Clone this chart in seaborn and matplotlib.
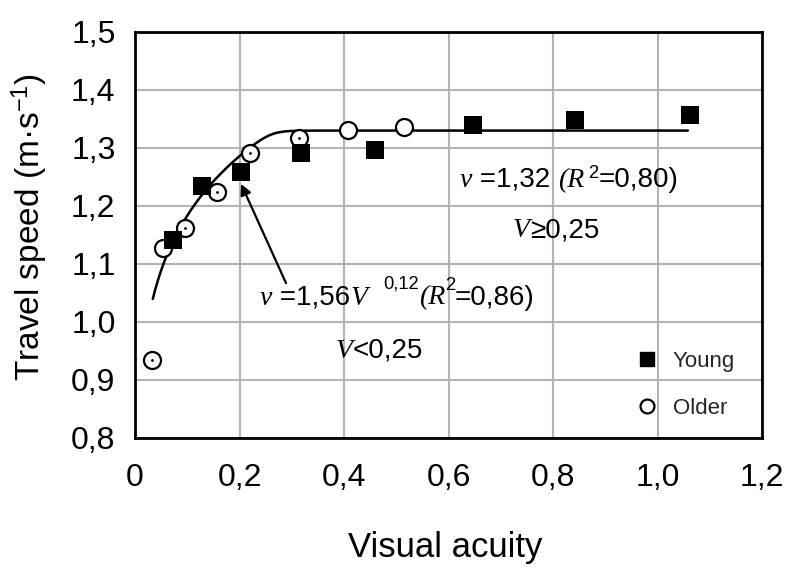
import numpy as np
import pandas as pd
import matplotlib
matplotlib.use("Agg")
import matplotlib.pyplot as plt
import matplotlib.transforms as mtransforms
import seaborn as sns
from matplotlib.lines import Line2D

# ---- data ----
young_x = [0.072, 0.128, 0.202, 0.318, 0.460, 0.646, 0.842, 1.062]
young_y = [1.141, 1.234, 1.258, 1.291, 1.297, 1.340, 1.348, 1.357]
older_x = [0.032, 0.054, 0.096, 0.156, 0.220, 0.314, 0.408, 0.514]
older_y = [0.934, 1.127, 1.162, 1.224, 1.291, 1.318, 1.331, 1.337]
older_dot = [True, False, True, True, True, True, False, False]

fit_a, fit_b = 1.56, 0.12        # v = 1.56 V^0.12  (V < 0.25)
plateau = 1.33                   # drawn plateau level
fit_start, fit_end = 0.034, 1.058

x_ticks = [0, 0.2, 0.4, 0.6, 0.8, 1.0, 1.2]
x_ticklabels = ["0", "0,2", "0,4", "0,6", "0,8", "1,0", "1,2"]
y_ticks = [0.8, 0.9, 1.0, 1.1, 1.2, 1.3, 1.4, 1.5]
y_ticklabels = ["0,8", "0,9", "1,0", "1,1", "1,2", "1,3", "1,4", "1,5"]

sns.set_theme(style="white")
plt.rcParams["font.family"] = ["Liberation Sans", "DejaVu Sans"]
plt.rcParams["mathtext.fontset"] = "custom"
plt.rcParams["mathtext.rm"] = "Liberation Sans"
plt.rcParams["mathtext.it"] = "Liberation Serif:italic"

fig = plt.figure(figsize=(7.9, 5.68), dpi=100)
ax = fig.add_axes([0.1709, 0.2289, 0.7937, 0.7148])

# fit curve
vx = np.linspace(fit_start, fit_end, 400)
pw = fit_a * vx ** fit_b
k = 0.008
vy = -k * np.log(np.exp(-pw / k) + np.exp(-plateau / k))
fit_df = pd.DataFrame({"V": vx, "v": vy})
sns.lineplot(data=fit_df, x="V", y="v", ax=ax, color="black", lw=1.8, zorder=3)

young_df = pd.DataFrame({"V": young_x, "v": young_y})
older_df = pd.DataFrame({"V": older_x, "v": older_y, "dot": older_dot})

sns.scatterplot(data=older_df, x="V", y="v", ax=ax, marker="o", s=150,
                facecolor="white", edgecolor="black", linewidth=1.6, zorder=4)
dots = older_df[older_df["dot"]]
sns.scatterplot(data=dots, x="V", y="v", ax=ax, marker="o", s=4,
                color="black", edgecolor="black", linewidth=0, zorder=5)
sns.scatterplot(data=young_df, x="V", y="v", ax=ax, marker="s", s=170,
                color="black", edgecolor="black", linewidth=0, zorder=6)

ax.set_xlim(0, 1.2)
ax.set_ylim(0.8, 1.5)
ax.set_xticks(x_ticks)
ax.set_xticklabels(x_ticklabels)
ax.set_yticks(y_ticks)
ax.set_yticklabels(y_ticklabels)
ax.tick_params(axis="both", length=0, labelsize=23, colors="black")
ax.tick_params(axis="x", pad=18)
ax.tick_params(axis="y", pad=14)
ax.grid(True, color="#b3b3b3", lw=1.5)
ax.set_axisbelow(True)
for s in ax.spines.values():
    s.set_color("black")
    s.set_linewidth(2.0)

ax.set_xlabel("Visual acuity", fontsize=25, color="black")
ax.xaxis.set_label_coords(0.495, -0.292)
ax.xaxis.label.set_va("baseline")
ax.set_ylabel(r"Travel speed (m·s$^{\mathregular{-1}}$)", fontsize=24, color="black")
ax.yaxis.set_label_coords(-0.136, 0.52)

# rich text helper: pieces drawn one after another
SANS = dict(family="Liberation Sans")
SERIF_IT = dict(family="Liberation Serif", style="italic")
renderer = fig.canvas.get_renderer()


def rich_text(x, y, pieces, size=20):
    off = 0.0
    for s, font, rel, rise in pieces:
        tr = mtransforms.offset_copy(ax.transData, fig=fig, x=off, y=rise, units="dots")
        t = ax.text(x, y, s, transform=tr, fontsize=size * rel, va="baseline",
                    ha="left", color="black", **font)
        off += t.get_window_extent(renderer).width


rich_text(0.239, 1.030, [("v", SERIF_IT, 1, 0), (" =1,56", SANS, 1, 0),
                         ("V", SERIF_IT, 1, 0), ("  ", SANS, 1, 0),
                         ("0,12", SANS, 0.66, 16),
                         ("(R", SERIF_IT, 1, 0), ("2", SANS, 0.66, 15),
                         ("=0,86)", SANS, 1, 0)])
rich_text(0.383, 0.938, [("V", SERIF_IT, 1, 0), ("<0,25", SANS, 1, 0)])
rich_text(0.622, 1.233, [("v", SERIF_IT, 1, 0), (" =1,32 ", SANS, 1, 0),
                         ("(R", SERIF_IT, 1, 0), (" ", SANS, 0.5, 9),
                         ("2", SANS, 0.66, 9),
                         ("=0,80)", SANS, 1, 0)])
rich_text(0.723, 1.146, [("V", SERIF_IT, 1, 0), ("≥0,25", SANS, 1, 0)])

ax.annotate("", xy=(0.203, 1.238), xytext=(0.289, 1.067),
            arrowprops=dict(arrowstyle="-|>", color="black", lw=1.6,
                            mutation_scale=16, shrinkA=0, shrinkB=0))

handles = [Line2D([], [], marker="s", ls="", color="black", markersize=10),
           Line2D([], [], marker="o", ls="", markerfacecolor="white",
                  markeredgecolor="black", markeredgewidth=1.6, markersize=10)]
ax.legend(handles, ["Young", "Older"], loc="lower left",
          bbox_to_anchor=(0.767, -0.002), frameon=False, fontsize=16,
          handletextpad=0.65, labelspacing=1.15, handlelength=1.0)

fig.savefig("out.png", dpi=100)
